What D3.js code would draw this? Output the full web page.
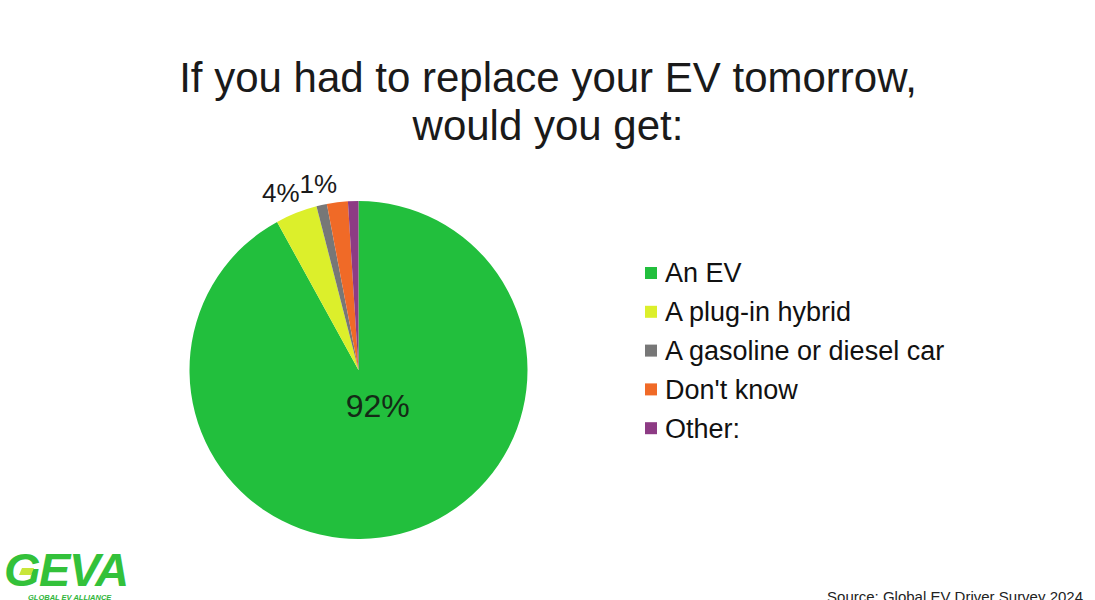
<!DOCTYPE html>
<html>
<head>
<meta charset="utf-8">
<script src="https://cdn.jsdelivr.net/npm/d3@7"></script>
<style>
  html, body { margin: 0; padding: 0; background: #ffffff; }
  svg { display: block; font-family: "Liberation Sans", Arial, sans-serif; }
</style>
</head>
<body>
<svg id="chart" width="1095" height="600"></svg>
<script>
const titleLines = ["If you had to replace your EV tomorrow,", "would you get:"];
const categories = ["An EV", "A plug-in hybrid", "A gasoline or diesel car", "Don't know", "Other:"];
const values = [92, 4, 1, 2, 1];
const colors = ["#22bf3d", "#dcef2b", "#777777", "#f06a27", "#8d3b84"];
const shownLabels = ["92%", "4%", "1%", "", ""];
const sourceText = "Source: Global EV Driver Survey 2024";

const svg = d3.select("#chart");

// Title
svg.append("g").selectAll("text").data(titleLines).join("text")
  .attr("x", 548).attr("y", (d, i) => 92 + i * 48)
  .attr("text-anchor", "middle")
  .attr("font-size", 42).attr("fill", "#1a1a1a")
  .text(d => d);

// Pie
const cx = 358.5, cy = 370, R = 169;
const color = d3.scaleOrdinal().domain(categories).range(colors);
const data = categories.map((c, i) => ({ cat: c, value: values[i], label: shownLabels[i] }));
const pie = d3.pie().value(d => d.value).sort(null);
const arcs = pie(data);
const arc = d3.arc().innerRadius(0).outerRadius(R);
const labelArcOut = d3.arc().innerRadius(191).outerRadius(191);
const labelArcIn = d3.arc().innerRadius(R * 0.22).outerRadius(R * 0.22);

const g = svg.append("g").attr("transform", `translate(${cx},${cy})`);
g.selectAll("path").data(arcs).join("path")
  .attr("d", arc)
  .attr("fill", d => color(d.data.cat));

// inside label for the big slice
const big = arcs.filter(d => d.data.label && d.data.value > 50);
g.selectAll("text.in").data(big).join("text")
  .attr("class", "in")
  .attr("x", d => labelArcIn.centroid(d)[0] + 10)
  .attr("y", d => labelArcIn.centroid(d)[1])
  .attr("text-anchor", "middle").attr("dy", "0.35em")
  .attr("font-size", 32).attr("fill", "#142a16")
  .text(d => d.data.label);

// outside labels with simple horizontal collision avoidance
const small = arcs.filter(d => d.data.label && d.data.value <= 50);
const outLabels = g.selectAll("text.out").data(small).join("text")
  .attr("class", "out")
  .attr("text-anchor", "middle").attr("dy", "0.35em")
  .attr("font-size", 26).attr("fill", "#1a1a1a")
  .text(d => d.data.label);
const pos = small.map((d, i) => {
  const c = labelArcOut.centroid(d);
  return { x: c[0], y: c[1], w: outLabels.nodes()[i].getComputedTextLength() };
});
for (let i = 1; i < pos.length; i++) {
  const a = pos[i - 1], b = pos[i];
  const overlap = (a.x + a.w / 2) - (b.x - b.w / 2);
  if (overlap > 0) { a.x -= overlap / 2 + 3; b.x += overlap / 2 - 3; }
}
outLabels.attr("x", (d, i) => pos[i].x).attr("y", (d, i) => pos[i].y);

// Legend
const legend = svg.append("g").attr("transform", "translate(645,273)");
const rowY = d3.scaleBand().domain(categories).range([0, 194]).paddingInner(0);
const rows = legend.selectAll("g").data(categories).join("g")
  .attr("transform", d => `translate(0,${rowY(d)})`);
rows.append("rect").attr("x", 0).attr("y", -6).attr("width", 12).attr("height", 12)
  .attr("fill", d => color(d));
rows.append("text").attr("x", 20).attr("y", 0).attr("dy", "0.35em")
  .attr("font-size", 27).attr("fill", "#111")
  .text(d => d);

// Source
svg.append("text").attr("x", 1083).attr("y", 602).attr("text-anchor", "end")
  .attr("font-size", 15).attr("fill", "#222").text(sourceText);

// Logo
const logo = svg.append("g");
logo.append("text").attr("x", 4).attr("y", 586)
  .attr("font-size", 47).attr("font-weight", "bold").attr("font-style", "italic")
  .attr("letter-spacing", -1.5).attr("fill", "#33c13a").text("GEVA");
logo.append("path")
  .attr("d", "M22,568 L34,568 L31,575 L19,575 Z")
  .attr("fill", "#c8e63a");
logo.append("text").attr("x", 28).attr("y", 600)
  .attr("font-size", 7.5).attr("font-weight", "bold").attr("font-style", "italic")
  .attr("fill", "#2fb53a").text("GLOBAL EV ALLIANCE");
</script>
</body>
</html>
